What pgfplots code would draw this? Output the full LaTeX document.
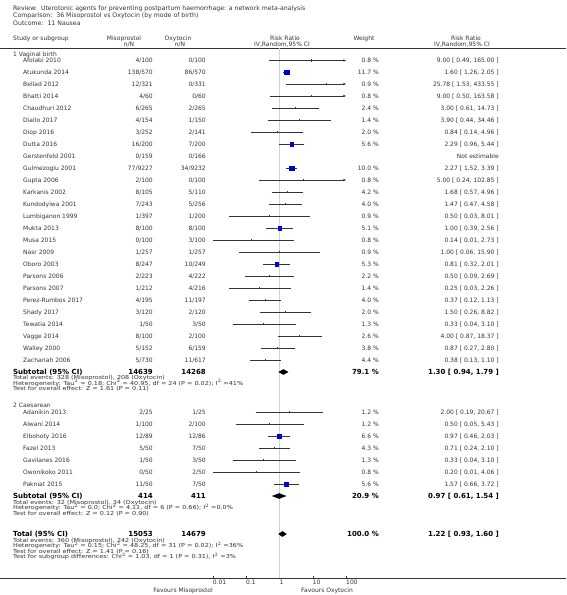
\documentclass[border=0pt]{standalone}
\usepackage{fontspec}
\setmainfont{DejaVu Sans}
\newfontfamily\notefont[FakeStretch=1.17]{DejaVu Sans}
\usepackage{pgfplots}
\pgfplotsset{compat=1.18}
\usetikzlibrary{arrows.meta}
\definecolor{txt}{HTML}{333333}
\definecolor{sqblue}{HTML}{0000CC}
\newcommand\fs{\fontsize{6}{7}\selectfont}
\newcommand\fn{\notefont\fontsize{5.5}{6}\selectfont}
\newcommand\fb{\fontsize{7}{8}\selectfont\bfseries}
% row: y, name, miso, oxy, weight, rr
\newcommand\row[6]{%
  \node[anchor=base west] at (23,{-#1-2.2}) {#2};
  \node[anchor=base east] at (153,{-#1-2.2}) {#3};
  \node[anchor=base east] at (206,{-#1-2.2}) {#4};
  \node[anchor=base east] at (379,{-#1-2.2}) {#5};
  \node[anchor=base east] at (499,{-#1-2.2}) {#6};}
\newcommand\sub[6]{%
  \node[anchor=base west,font=\fb,text=black] at (13,{-#1-2.5}) {#2};
  \node[anchor=base east,font=\fb,text=black] at (153,{-#1-2.5}) {#3};
  \node[anchor=base east,font=\fb,text=black] at (206,{-#1-2.5}) {#4};
  \node[anchor=base east,font=\fb,text=black] at (379,{-#1-2.5}) {#5};
  \node[anchor=base east,font=\fb,text=black] at (499,{-#1-2.5}) {#6};}
\newcommand\note[2]{\node[anchor=base west,font=\fn] at (13,{-#1-2}) {#2};}
% ci in axis: y, lo, hi
\newcommand\ci[3]{\addplot[cil] coordinates {(#2,#1) (#3,#1)};}
\newcommand\cia[3]{\addplot[cil,-{Latex[length=3pt,width=2.4pt]}] coordinates {(#2,#1) (#3,#1)};}
\newcommand\tk[2]{\addplot[tkm] coordinates {(#2,#1)};}
\newcommand\sq[3]{\addplot[only marks,mark=square*,mark size=#3,mark options={fill=sqblue,draw=sqblue,line width=0.2pt}] coordinates {(#2,#1)};}
\newcommand\dia[4]{\addplot[fill=black,draw=black,line width=0.3pt] coordinates {(#2,#1) (#3,{#1+2.6}) (#4,#1) (#3,{#1-2.6})} -- cycle;}
\begin{document}
\begin{tikzpicture}[x=1pt,y=1pt,every node/.style={font=\fs,text=txt,inner sep=0pt}]
\path[use as bounding box] (0,0) rectangle (566,-595);
% titles
\node[anchor=base west,font=\fontsize{6.2}{7}\selectfont] at (13,-10) {Review:\ \ Uterotonic agents for preventing postpartum haemorrhage: a network meta-analysis};
\node[anchor=base west,font=\fontsize{6.2}{7}\selectfont] at (13,-17.5) {Comparison:\ \ 36 Misoprostol vs Oxytocin (by mode of birth)};
\node[anchor=base west,font=\fontsize{6.2}{7}\selectfont] at (13,-25) {Outcome:\ \ 11 Nausea};
% headers
\node[anchor=base west] at (13,-40) {Study or subgroup};
\node[anchor=base] at (124,-40) {Misoprostol};
\node[anchor=base] at (129,-46) {n/N};
\node[anchor=base] at (178,-40) {Oxytocin};
\node[anchor=base] at (180,-46) {n/N};
\node[anchor=base] at (285,-40) {Risk Ratio};
\node[anchor=base] at (282,-46) {IV,Random,95\% CI};
\node[anchor=base] at (364,-40) {Weight};
\node[anchor=base] at (466,-40) {Risk Ratio};
\node[anchor=base] at (462,-46) {IV,Random,95\% CI};
\draw[txt,line width=0.6pt] (0,-48.5) -- (566,-48.5);
\draw[txt,line width=0.6pt] (0,-578) -- (566,-578);
% group 1
\node[anchor=base west] at (13,{-54-2.2}) {1 Vaginal birth};
\row{60.5}{Afolabi 2010}{4/100}{0/100}{0.8 \%}{9.00 [ 0.49, 165.00 ]}
\row{72}{Atukunda 2014}{138/570}{86/570}{11.7 \%}{1.60 [ 1.26, 2.05 ]}
\row{84}{Bellad 2012}{12/321}{0/331}{0.9 \%}{25.78 [ 1.53, 433.55 ]}
\row{96}{Bhatti 2014}{4/60}{0/60}{0.8 \%}{9.00 [ 0.50, 163.58 ]}
\row{108}{Chaudhuri 2012}{6/265}{2/265}{2.4 \%}{3.00 [ 0.61, 14.73 ]}
\row{120}{Diallo 2017}{4/154}{1/150}{1.4 \%}{3.90 [ 0.44, 34.46 ]}
\row{132}{Diop 2016}{3/252}{2/141}{2.0 \%}{0.84 [ 0.14, 4.96 ]}
\row{144}{Dutta 2016}{16/200}{7/200}{5.6 \%}{2.29 [ 0.96, 5.44 ]}
\row{156}{Gerstenfeld 2001}{0/159}{0/166}{}{Not estimable}
\row{168}{Gulmezoglu 2001}{77/9227}{34/9232}{10.0 \%}{2.27 [ 1.52, 3.39 ]}
\row{180}{Gupta 2006}{2/100}{0/100}{0.8 \%}{5.00 [ 0.24, 102.85 ]}
\row{192}{Karkanis 2002}{8/105}{5/110}{4.2 \%}{1.68 [ 0.57, 4.96 ]}
\row{204}{Kundodyiwa 2001}{7/243}{5/256}{4.0 \%}{1.47 [ 0.47, 4.58 ]}
\row{216}{Lumbiganon 1999}{1/397}{1/200}{0.9 \%}{0.50 [ 0.03, 8.01 ]}
\row{228}{Mukta 2013}{8/100}{8/100}{5.1 \%}{1.00 [ 0.39, 2.56 ]}
\row{240}{Musa 2015}{0/100}{3/100}{0.8 \%}{0.14 [ 0.01, 2.73 ]}
\row{252}{Nasr 2009}{1/257}{1/257}{0.9 \%}{1.00 [ 0.06, 15.90 ]}
\row{264}{Oboro 2003}{8/247}{10/249}{5.3 \%}{0.81 [ 0.32, 2.01 ]}
\row{276}{Parsons 2006}{2/223}{4/222}{2.2 \%}{0.50 [ 0.09, 2.69 ]}
\row{288}{Parsons 2007}{1/212}{4/216}{1.4 \%}{0.25 [ 0.03, 2.26 ]}
\row{300}{Perez-Rumbos 2017}{4/195}{11/197}{4.0 \%}{0.37 [ 0.12, 1.13 ]}
\row{312}{Shady 2017}{3/120}{2/120}{2.0 \%}{1.50 [ 0.26, 8.82 ]}
\row{324}{Tewatia 2014}{1/50}{3/50}{1.3 \%}{0.33 [ 0.04, 3.10 ]}
\row{336}{Vagge 2014}{8/100}{2/100}{2.6 \%}{4.00 [ 0.87, 18.37 ]}
\row{348}{Walley 2000}{5/152}{6/159}{3.8 \%}{0.87 [ 0.27, 2.80 ]}
\row{360}{Zachariah 2006}{5/730}{11/617}{4.4 \%}{0.38 [ 0.13, 1.10 ]}
\sub{372}{Subtotal (95\% CI)}{14639}{14268}{79.1 \%}{1.30 [ 0.94, 1.79 ]}
\note{377.5}{Total events: 328 (Misoprostol), 208 (Oxytocin)}
\note{383}{Heterogeneity: Tau$^{2}$ = 0.18; Chi$^{2}$ = 40.95, df = 24 (P = 0.02); I$^{2}$ =41\%}
\note{388.5}{Test for overall effect: Z = 1.61 (P = 0.11)}
% group 2
\node[anchor=base west] at (13,{-405-2.2}) {2 Caesarean};
\row{412}{Adanikin 2013}{2/25}{1/25}{1.2 \%}{2.00 [ 0.19, 20.67 ]}
\row{424}{Alwani 2014}{1/100}{2/100}{1.2 \%}{0.50 [ 0.05, 5.43 ]}
\row{436}{Elbohoty 2016}{12/89}{12/86}{6.6 \%}{0.97 [ 0.46, 2.03 ]}
\row{448}{Fazel 2013}{5/50}{7/50}{4.3 \%}{0.71 [ 0.24, 2.10 ]}
\row{460}{Gavilanes 2016}{1/50}{3/50}{1.3 \%}{0.33 [ 0.04, 3.10 ]}
\row{472}{Owonikoko 2011}{0/50}{2/50}{0.8 \%}{0.20 [ 0.01, 4.06 ]}
\row{484}{Pakniat 2015}{11/50}{7/50}{5.6 \%}{1.57 [ 0.66, 3.72 ]}
\sub{496}{Subtotal (95\% CI)}{414}{411}{20.9 \%}{0.97 [ 0.61, 1.54 ]}
\note{502}{Total events: 32 (Misoprostol), 34 (Oxytocin)}
\note{507.5}{Heterogeneity: Tau$^{2}$ = 0.0; Chi$^{2}$ = 4.11, df = 6 (P = 0.66); I$^{2}$ =0.0\%}
\note{513}{Test for overall effect: Z = 0.12 (P = 0.90)}
\sub{534}{Total (95\% CI)}{15053}{14679}{100.0 \%}{1.22 [ 0.93, 1.60 ]}
\note{540}{Total events: 360 (Misoprostol), 242 (Oxytocin)}
\note{545.5}{Heterogeneity: Tau$^{2}$ = 0.15; Chi$^{2}$ = 48.25, df = 31 (P = 0.02); I$^{2}$ =36\%}
\note{551}{Test for overall effect: Z = 1.41 (P = 0.16)}
\note{556.5}{Test for subgroup differences: Chi$^{2}$ = 1.03, df = 1 (P = 0.31), I$^{2}$ =3\%}
\node[anchor=base east] at (213,-592.5) {Favours Misoprostol};
\node[anchor=base west] at (301,-592.5) {Favours Oxytocin};
\begin{axis}[at={(213pt,-48pt)},anchor=north west,scale only axis,
  width=133.3pt,height=530pt,xmode=log,xmin=0.01,xmax=100,ymin=-578,ymax=-48,
  axis line style={draw=none},ytick=\empty,
  xtick={0.01,0.1,1,10,100},xticklabels={0.01,0.1,1,10,100},
  xminorticks=false,xtick pos=left,tick align=inside,major tick length=2.5pt,
  every tick/.style={txt,line width=0.5pt},
  x tick label style={anchor=north west,inner sep=0pt,yshift=-1.8pt,xshift=-0.3pt,font=\fs,text=txt},
  clip=false,
  cil/.style={txt,line width=0.5pt},
  tkm/.style={only marks,mark=|,mark size=1.4pt,mark options={txt,line width=0.5pt}}]
\addplot[black!18,line width=0.8pt] coordinates {(1,-48) (1,-578)};
% vaginal birth
\cia{-60.5}{0.49}{100}\tk{-60.5}{9.00}
\ci{-72}{1.26}{2.05}\sq{-72}{1.60}{2.4pt}
\cia{-84}{1.53}{100}\tk{-84}{25.78}
\cia{-96}{0.50}{100}\tk{-96}{9.00}
\ci{-108}{0.61}{14.73}\tk{-108}{3.00}
\ci{-120}{0.44}{34.46}\tk{-120}{3.90}
\ci{-132}{0.14}{4.96}\tk{-132}{0.84}
\ci{-144}{0.96}{5.44}\sq{-144}{2.29}{1.7pt}
\ci{-168}{1.52}{3.39}\sq{-168}{2.27}{2.2pt}
\cia{-180}{0.24}{100}\tk{-180}{5.00}
\ci{-192}{0.57}{4.96}\tk{-192}{1.68}
\ci{-204}{0.47}{4.58}\tk{-204}{1.47}
\ci{-216}{0.03}{8.01}\tk{-216}{0.50}
\ci{-228}{0.39}{2.56}\sq{-228}{1.00}{1.6pt}
\ci{-240}{0.01}{2.73}\tk{-240}{0.14}
\ci{-252}{0.06}{15.90}\tk{-252}{1.00}
\ci{-264}{0.32}{2.01}\sq{-264}{0.81}{1.6pt}
\ci{-276}{0.09}{2.69}\tk{-276}{0.50}
\ci{-288}{0.03}{2.26}\tk{-288}{0.25}
\ci{-300}{0.12}{1.13}\tk{-300}{0.37}
\ci{-312}{0.26}{8.82}\tk{-312}{1.50}
\ci{-324}{0.04}{3.10}\tk{-324}{0.33}
\ci{-336}{0.87}{18.37}\tk{-336}{4.00}
\ci{-348}{0.27}{2.80}\tk{-348}{0.87}
\ci{-360}{0.13}{1.10}\tk{-360}{0.38}
\dia{-372}{0.94}{1.30}{1.79}
% caesarean
\ci{-412}{0.19}{20.67}\tk{-412}{2.00}
\ci{-424}{0.05}{5.43}\tk{-424}{0.50}
\ci{-436}{0.46}{2.03}\sq{-436}{0.97}{1.8pt}
\ci{-448}{0.24}{2.10}\tk{-448}{0.71}
\ci{-460}{0.04}{3.10}\tk{-460}{0.33}
\ci{-472}{0.01}{4.06}\tk{-472}{0.20}
\ci{-484}{0.66}{3.72}\sq{-484}{1.57}{1.7pt}
\dia{-496}{0.61}{0.97}{1.54}
\dia{-534}{0.93}{1.22}{1.60}
\end{axis}
\end{tikzpicture}
\end{document}
